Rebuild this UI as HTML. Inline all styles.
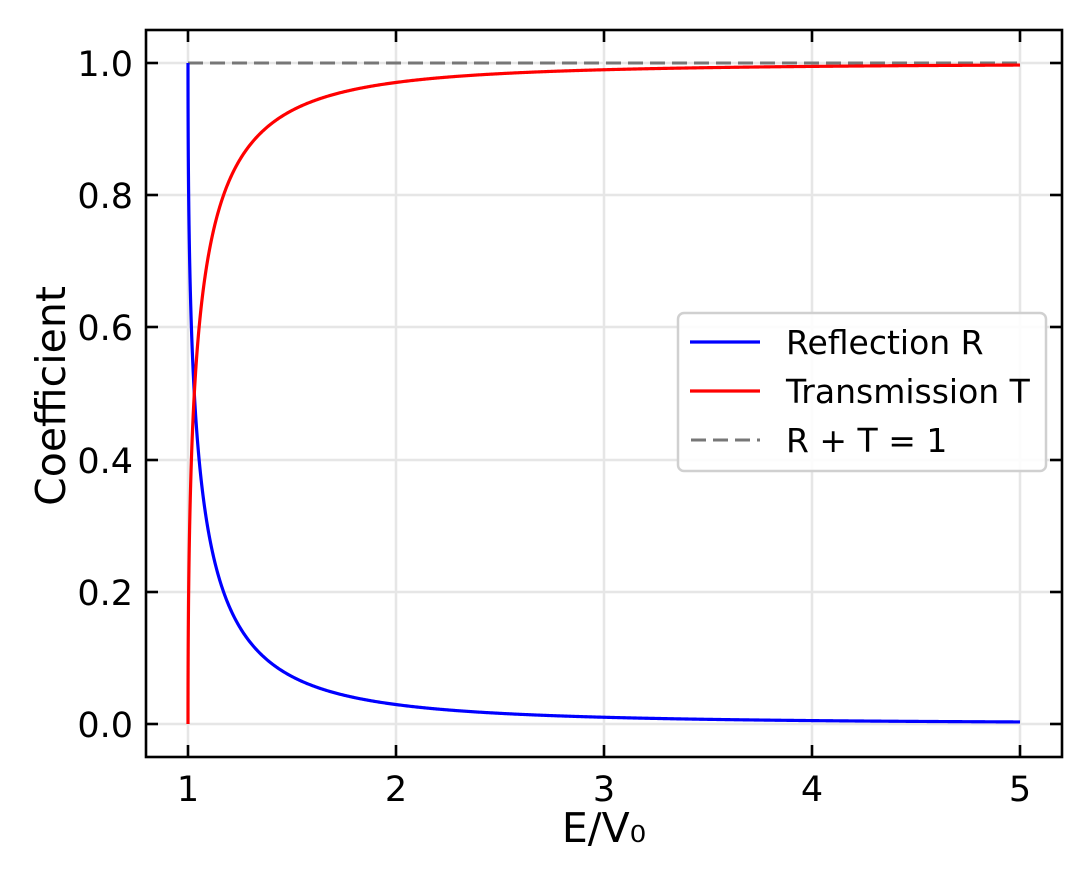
<!DOCTYPE html>
<html><head><meta charset="utf-8">
<style>
html,body{margin:0;padding:0;background:#fff;}
svg{display:block;font-family:"DejaVu Sans","Liberation Sans",sans-serif;}
</style></head>
<body>
<svg id="s" width="1091" height="880" viewBox="0 0 1091 880">
<rect width="1091" height="880" fill="#fff"/>
<g stroke="#e6e6e6" stroke-width="2.5">
<line x1="188" y1="30" x2="188" y2="757"/>
<line x1="396" y1="30" x2="396" y2="757"/>
<line x1="604" y1="30" x2="604" y2="757"/>
<line x1="812" y1="30" x2="812" y2="757"/>
<line x1="1020" y1="30" x2="1020" y2="757"/>
<line x1="146" y1="724" x2="1062" y2="724"/>
<line x1="146" y1="592" x2="1062" y2="592"/>
<line x1="146" y1="460" x2="1062" y2="460"/>
<line x1="146" y1="327" x2="1062" y2="327"/>
<line x1="146" y1="195" x2="1062" y2="195"/>
<line x1="146" y1="63" x2="1062" y2="63"/>
</g>
<line x1="188" y1="63" x2="1020" y2="63" stroke="#777" stroke-width="3" stroke-dasharray="15,7"/>
<path id="R" fill="none" stroke="#0000ff" stroke-width="3.2"/>
<path id="T" fill="none" stroke="#ff0000" stroke-width="3.2"/>
<rect x="146" y="30" width="916" height="727" fill="none" stroke="#000" stroke-width="2.6"/>
<g stroke="#000" stroke-width="2.6">
<line x1="188" y1="757" x2="188" y2="745"/><line x1="188" y1="30" x2="188" y2="42"/>
<line x1="396" y1="757" x2="396" y2="745"/><line x1="396" y1="30" x2="396" y2="42"/>
<line x1="604" y1="757" x2="604" y2="745"/><line x1="604" y1="30" x2="604" y2="42"/>
<line x1="812" y1="757" x2="812" y2="745"/><line x1="812" y1="30" x2="812" y2="42"/>
<line x1="1020" y1="757" x2="1020" y2="745"/><line x1="1020" y1="30" x2="1020" y2="42"/>
<line x1="146" y1="724" x2="158" y2="724"/><line x1="1062" y1="724" x2="1050" y2="724"/>
<line x1="146" y1="592" x2="158" y2="592"/><line x1="1062" y1="592" x2="1050" y2="592"/>
<line x1="146" y1="460" x2="158" y2="460"/><line x1="1062" y1="460" x2="1050" y2="460"/>
<line x1="146" y1="327" x2="158" y2="327"/><line x1="1062" y1="327" x2="1050" y2="327"/>
<line x1="146" y1="195" x2="158" y2="195"/><line x1="1062" y1="195" x2="1050" y2="195"/>
<line x1="146" y1="63" x2="158" y2="63"/><line x1="1062" y1="63" x2="1050" y2="63"/>
</g>
<g font-size="35" fill="#000" text-anchor="middle">
<text x="188" y="801">1</text><text x="396" y="801">2</text><text x="604" y="801">3</text><text x="812" y="801">4</text><text x="1020" y="801">5</text>
</g>
<g font-size="35" fill="#000" text-anchor="end">
<text x="133" y="737">0.0</text><text x="133" y="605">0.2</text><text x="133" y="473">0.4</text>
<text x="133" y="340">0.6</text><text x="133" y="208">0.8</text><text x="133" y="76">1.0</text>
</g>
<text x="604" y="842" font-size="41" text-anchor="middle">E/V₀</text>
<text transform="translate(65,396) rotate(-90)" font-size="41" text-anchor="middle">Coefficient</text>
<rect x="678" y="313" width="368" height="158" rx="6" fill="#fff" fill-opacity="0.85" stroke="#d0d0d0" stroke-width="2.5"/>
<line x1="690" y1="342" x2="760" y2="342" stroke="#0000ff" stroke-width="3.2"/>
<line x1="690" y1="391" x2="760" y2="391" stroke="#ff0000" stroke-width="3.2"/>
<line x1="691" y1="440" x2="760" y2="440" stroke="#777" stroke-width="3" stroke-dasharray="15,7"/>
<g font-size="33" fill="#000">
<text x="786" y="354">Reflection R</text>
<text x="786" y="403">Transmission T</text>
<text x="786" y="452">R + T = 1</text>
</g>
</svg>
<script>
(function(){
var r="",t="";
function px(e){return 188+(e-1)*208;}
function py(v){return 724-v*661;}
var pts=[];
for(var i=0;i<=400;i++){var u=i/400;pts.push(1+0.5*u*u*u*u);}
for(var i=1;i<=800;i++){pts.push(1.5+3.5*i/800);}
for(var i=0;i<pts.length;i++){
var e=pts[i];var k=Math.sqrt(Math.max(0,1-1/e));
var R=Math.pow((1-k)/(1+k),2);var T=1-R;
var c=i?"L":"M";
r+=c+px(e).toFixed(2)+","+py(R).toFixed(2);
t+=c+px(e).toFixed(2)+","+py(T).toFixed(2);
}
document.getElementById("R").setAttribute("d",r);
document.getElementById("T").setAttribute("d",t);
})();
</script>
</body></html>
